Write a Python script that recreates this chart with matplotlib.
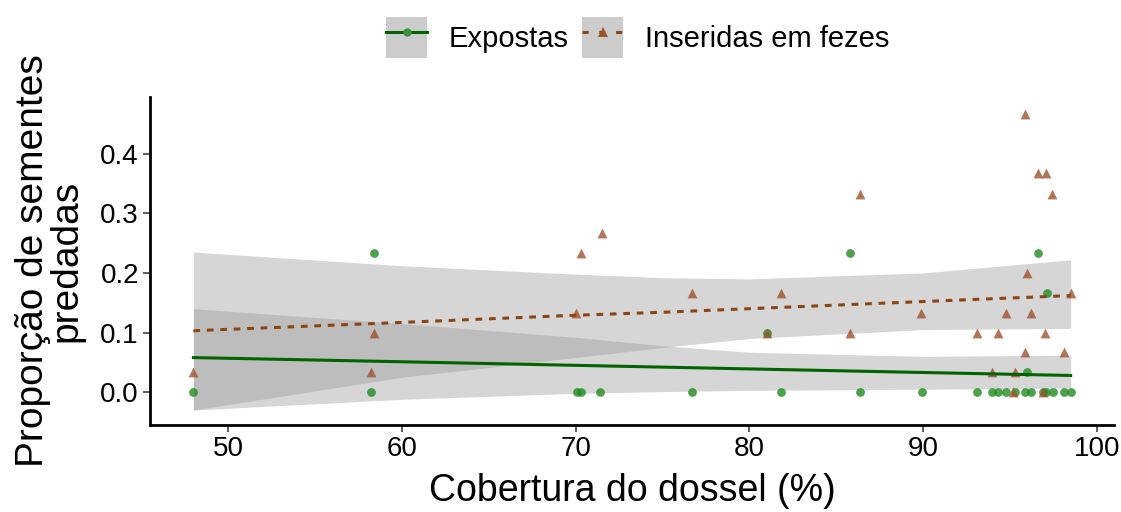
import matplotlib.pyplot as plt
from matplotlib.lines import Line2D
from matplotlib.patches import Patch

plt.rcParams['font.family'] = ['Liberation Sans', 'DejaVu Sans']

# Expostas (green points)
exp_x = [48.0, 58.2, 58.4, 70.1, 70.3, 71.4, 76.7, 81.0, 81.8, 85.8, 86.4, 89.97,
         93.1, 94.0, 94.3, 94.8, 95.3, 95.9, 96.0, 96.2, 96.6, 96.9, 97.1, 97.15,
         97.5, 98.1, 98.5]
exp_y = [0.0, 0.0, 0.233, 0.0, 0.0, 0.0, 0.0, 0.1, 0.0, 0.233, 0.0, 0.0,
         0.0, 0.0, 0.0, 0.0, 0.0, 0.0, 0.033, 0.0, 0.233, 0.0, 0.0, 0.167,
         0.0, 0.0, 0.0]

# Inseridas em fezes (brown triangles)
ins_x = [48.0, 58.2, 58.4, 70.0, 70.3, 71.5, 76.7, 81.0, 81.8, 85.8, 86.4, 89.9,
         93.1, 94.0, 94.3, 94.8, 95.2, 95.3, 95.9, 95.9, 96.0, 96.2, 96.6, 96.9,
         97.0, 97.1, 97.4, 98.1, 98.5]
ins_y = [0.033, 0.033, 0.1, 0.133, 0.233, 0.267, 0.167, 0.1, 0.167, 0.1, 0.333, 0.133,
         0.1, 0.033, 0.1, 0.133, 0.0, 0.033, 0.467, 0.067, 0.2, 0.133, 0.367, 0.0,
         0.1, 0.367, 0.333, 0.067, 0.167]

# fitted curves and confidence bands
fit_x = [48, 60, 70, 75, 80, 90, 98.5]
exp_fit = [0.058, 0.051, 0.045, 0.042, 0.039, 0.033, 0.028]
exp_lo = [-0.030, -0.012, -0.002, 0.001, 0.003, 0.005, 0.007]
exp_hi = [0.140, 0.115, 0.092, 0.078, 0.067, 0.060, 0.062]
ins_fit = [0.103, 0.117, 0.129, 0.134, 0.140, 0.152, 0.162]
ins_lo = [-0.030, 0.025, 0.058, 0.075, 0.090, 0.105, 0.107]
ins_hi = [0.235, 0.212, 0.198, 0.192, 0.190, 0.200, 0.222]

fig = plt.figure(figsize=(11.21, 5.12), dpi=100)
ax = fig.add_axes([0.1338, 0.170, 0.860, 0.6405])

band = '#999999'
ax.fill_between(fit_x, exp_lo, exp_hi, color=band, alpha=0.4, lw=0)
ax.fill_between(fit_x, ins_lo, ins_hi, color=band, alpha=0.4, lw=0)

ax.scatter(exp_x, exp_y, s=40, marker='o', color='#228b22', alpha=0.8, lw=0, zorder=3)
ax.scatter(ins_x, ins_y, s=50, marker='^', color='#a0522d', alpha=0.8, lw=0, zorder=3)

ax.plot(fit_x, exp_fit, color='#006400', lw=2.2, zorder=4)
ax.plot(fit_x, ins_fit, color='#8b4513', lw=2.2, ls=(0, (2.2, 2.2)), zorder=4)

ax.set_xlim(45.5, 101)
ax.set_ylim(-0.055, 0.495)
ax.set_xticks([50, 60, 70, 80, 90, 100])
ax.set_yticks([0.0, 0.1, 0.2, 0.3, 0.4])
ax.set_yticklabels(['0.0', '0.1', '0.2', '0.3', '0.4'])
ax.tick_params(labelsize=20, length=5, width=1.1, color='#333333', labelcolor='black', pad=3)

for s in ['top', 'right']:
    ax.spines[s].set_visible(False)
for s in ['left', 'bottom']:
    ax.spines[s].set_linewidth(2)

ax.set_xlabel('Cobertura do dossel (%)', fontsize=27, labelpad=8)
ax.set_ylabel('Proporção de sementes\npredadas', fontsize=28, labelpad=11, linespacing=0.92)

key = Patch(facecolor='#cccccc', edgecolor='none')
h1 = (key, Line2D([], [], color='#006400', lw=2.2, marker='o', markersize=6,
                  markerfacecolor='#3a8f3a', markeredgewidth=0))
h2 = (key, Line2D([], [], color='#8b4513', lw=2.2, ls=(0, (2, 3.5)), marker='^', markersize=7,
                  markerfacecolor='#a0522d', markeredgewidth=0))
fig.legend([h1, h2], ['Expostas', 'Inseridas em fezes'], loc='center',
           bbox_to_anchor=(0.569, 0.927), ncol=2, frameon=False, fontsize=21,
           handlelength=1.4, handleheight=1.75, handletextpad=0.75, columnspacing=0.45,
           borderpad=0.2)

fig.savefig('out.png', dpi=100)
